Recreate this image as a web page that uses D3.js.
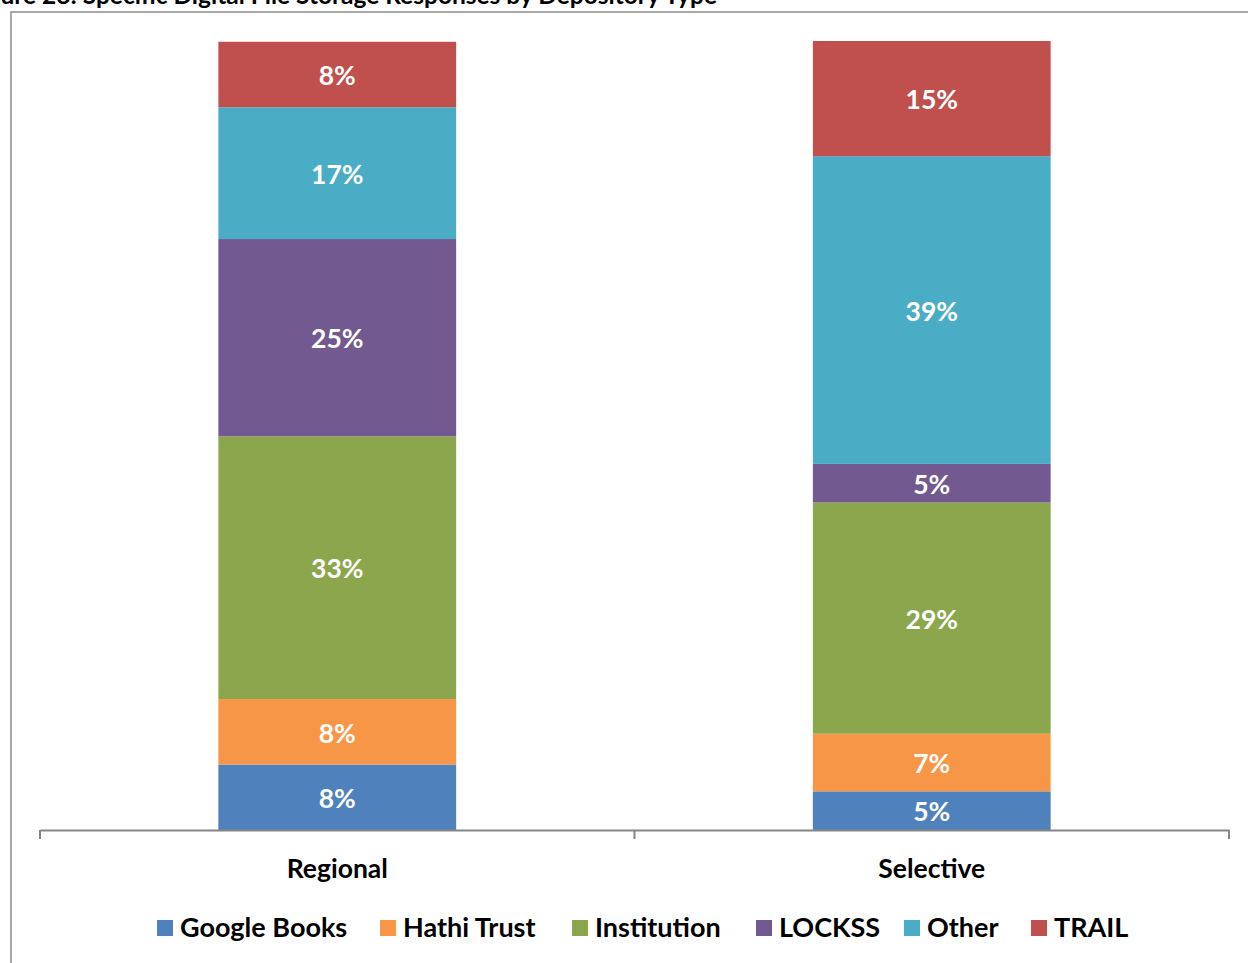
<!DOCTYPE html>
<html>
<head>
<meta charset="utf-8">
<script src="https://cdn.jsdelivr.net/npm/d3@7"></script>
<style>
  body { margin: 0; background: #fff; }
  text { font-family: Lato, "Open Sans", sans-serif; font-weight: bold; }
</style>
</head>
<body>
<svg id="svg-main" width="1248" height="963"></svg>
<script>
// data (share of responses, per depository type)
var categories = ["Regional", "Selective"];
var seriesNames = ["Google Books", "Hathi Trust", "Institution", "LOCKSS", "Other", "TRAIL"];
var regionalValues = [0.083, 0.083, 0.333, 0.25, 0.167, 0.083];
var selectiveValues = [0.049, 0.073, 0.293, 0.049, 0.390, 0.146];
var seriesColors = ["#4f81bd", "#f79646", "#8ba64d", "#72598f", "#4bacc6", "#c0504d"];
var titleText = "Figure 28: Specific Digital File Storage Responses by Depository Type";

var svg = d3.select("#svg-main"),
	width = +svg.attr("width"),
	height = +svg.attr("height");

// frame
svg.append("rect")
	.attr("x", 11).attr("y", 12)
	.attr("width", 1260).attr("height", 980)
	.attr("fill", "none")
	.attr("stroke", "#8c8c8c")
	.attr("stroke-width", 1.5);

// title, cut off at the page edge like the source
svg.append("text")
	.attr("x", 717).attr("y", 4)
	.attr("text-anchor", "end")
	.attr("font-size", 24.5)
	.attr("fill", "#000")
	.text(titleText);

var x = d3.scaleBand().domain(categories).range([40, 1229]).padding(0);
var y = d3.scaleLinear().domain([0, 1]).range([830, 41]);
var barW = x.bandwidth() * 0.4;

var valuesByCat = { "Regional": regionalValues, "Selective": selectiveValues };
var rows = categories.map(function(c) {
	var r = { cat: c };
	seriesNames.forEach(function(s, i) { r[s] = valuesByCat[c][i]; });
	return r;
});
var stacked = d3.stack().keys(seriesNames)(rows);
var color = d3.scaleOrdinal().domain(seriesNames).range(seriesColors);
var fmt = d3.format(".0%");

var layer = svg.selectAll(".layer")
	.data(stacked)
	.enter().append("g")
	.attr("class", "layer")
	.attr("fill", function(d) { return color(d.key); });

layer.selectAll("rect")
	.data(function(d) { return d; })
	.enter().append("rect")
	.attr("x", function(d) { return x(d.data.cat) + (x.bandwidth() - barW) / 2; })
	.attr("y", function(d) { return y(d[1]); })
	.attr("width", barW)
	.attr("height", function(d) { return y(d[0]) - y(d[1]); });

layer.selectAll("text")
	.data(function(d) { return d; })
	.enter().append("text")
	.attr("x", function(d) { return x(d.data.cat) + x.bandwidth() / 2; })
	.attr("y", function(d) { return (y(d[0]) + y(d[1])) / 2 + 1.5; })
	.attr("dy", "0.35em")
	.attr("text-anchor", "middle")
	.attr("font-size", 26.5)
	.attr("fill", "#fff")
	.text(function(d) { return fmt(d[1] - d[0]); });

// category axis
var axis = svg.append("g")
	.attr("transform", "translate(0,830)")
	.call(d3.axisBottom(x).tickSize(0).tickPadding(29));
axis.select(".domain").attr("stroke", "#868686").attr("stroke-width", 2);
axis.selectAll("text")
	.attr("font-size", 26.5)
	.attr("fill", "#000")
	.style("font-family", "Lato, 'Open Sans', sans-serif")
	.style("font-weight", "bold");

var tickXs = categories.map(function(c) { return x(c); }).concat([x.range()[1]]);
axis.selectAll(".edge")
	.data(tickXs)
	.enter().append("line")
	.attr("class", "edge")
	.attr("x1", function(d) { return d; })
	.attr("x2", function(d) { return d; })
	.attr("y1", 0).attr("y2", 9)
	.attr("stroke", "#868686")
	.attr("stroke-width", 2);

// legend
var legendX = [157, 380, 572, 756, 904, 1031];
var legend = svg.selectAll(".legend")
	.data(seriesNames)
	.enter().append("g")
	.attr("class", "legend")
	.attr("transform", function(d, i) { return "translate(" + legendX[i] + ",928)"; });
legend.append("rect")
	.attr("x", 0).attr("y", -8)
	.attr("width", 16).attr("height", 16)
	.attr("fill", function(d) { return color(d); });
legend.append("text")
	.attr("x", 23).attr("y", 0)
	.attr("dy", "0.35em")
	.attr("font-size", 27)
	.attr("fill", "#000")
	.text(function(d) { return d; });
</script>
</body>
</html>
